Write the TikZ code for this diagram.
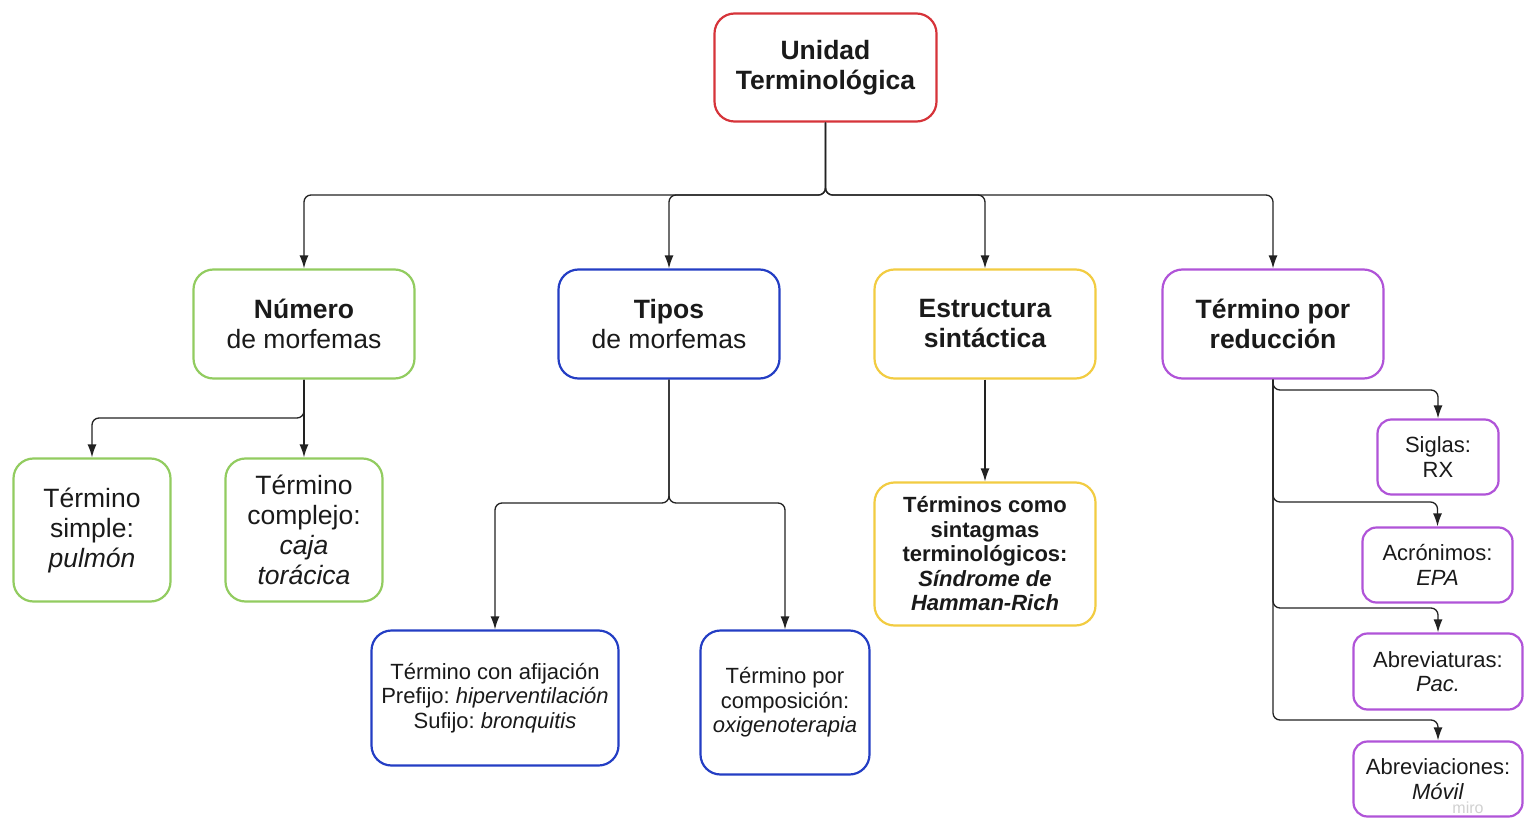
\documentclass[tikz,border=0pt]{standalone}
\usepackage{fontspec}
\setmainfont{Liberation Sans}
\usetikzlibrary{arrows.meta}
\frenchspacing
\definecolor{rojo}{RGB}{214,52,58}
\definecolor{verde}{RGB}{146,204,96}
\definecolor{azul}{RGB}{36,62,196}
\definecolor{amarillo}{RGB}{242,204,66}
\definecolor{morado}{RGB}{176,84,216}
\definecolor{texto}{RGB}{26,26,26}
\definecolor{linea}{RGB}{34,34,34}
\begin{document}
\begin{tikzpicture}[x=1pt,y=-1pt,
    caja/.style={draw,line width=2.2pt,rounded corners=20pt,align=center,inner sep=0pt,text=texto},
    grande/.style={font=\fontsize{26.5}{30}\selectfont},
    chica/.style={font=\fontsize{22}{24.5}\selectfont},
    flecha/.style={draw=linea,line width=1.3pt,rounded corners=7pt,-{Latex[length=13pt,width=9pt]}}]
  \useasboundingbox[fill=white] (0,0) rectangle (1528,818);
  \node[caja,draw=rojo,minimum width=222pt,minimum height=108pt,font=\fontsize{26.5}{30}\selectfont\bfseries] (unidad) at (825.5,67.5) {Unidad\\Terminológica};
  \node[caja,grande,draw=verde,minimum width=221pt,minimum height=109pt] (numero) at (304,324) {\textbf{Número}\\de morfemas};
  \node[caja,grande,draw=azul,minimum width=221pt,minimum height=109pt] (tipos) at (669,324) {\textbf{Tipos}\\de morfemas};
  \node[caja,draw=amarillo,minimum width=221pt,minimum height=109pt,font=\fontsize{26.5}{30}\selectfont\bfseries] (estructura) at (985,324) {Estructura\\sintáctica};
  \node[caja,draw=morado,minimum width=221pt,minimum height=109pt,font=\fontsize{26.5}{30}\selectfont\bfseries] (reduccion) at (1273,324) {Término por\\reducción};
  \node[caja,grande,draw=verde,minimum width=157pt,minimum height=143pt] (simple) at (92,530) {Término\\simple:\\\textit{pulmón}};
  \node[caja,grande,draw=verde,minimum width=157pt,minimum height=143pt] (complejo) at (304,530) {Término\\complejo:\\\textit{caja}\\\textit{torácica}};
  \node[caja,chica,draw=azul,minimum width=247pt,minimum height=135pt] (afijacion) at (495,698) {Término con afijación\\Prefijo: \textit{hiperventilación}\\Sufijo: \textit{bronquitis}};
  \node[caja,chica,draw=azul,minimum width=169pt,minimum height=144pt] (composicion) at (785,702.5) {Término por\\composición:\\\textit{oxigenoterapia}};
  \node[caja,draw=amarillo,minimum width=221pt,minimum height=143pt,font=\fontsize{22}{24.5}\selectfont\bfseries] (sintagma) at (985,554) {Términos como\\sintagmas\\terminológicos:\\\textit{Síndrome de}\\\textit{Hamman-Rich}};
  \node[caja,chica,draw=morado,rounded corners=14pt,minimum width=121pt,minimum height=75pt] (siglas) at (1438,457) {Siglas:\\RX};
  \node[caja,chica,draw=morado,rounded corners=14pt,minimum width=150pt,minimum height=75pt] (acronimos) at (1437.5,565) {Acrónimos:\\\textit{EPA}};
  \node[caja,chica,draw=morado,rounded corners=14pt,minimum width=169pt,minimum height=76pt] (abreviaturas) at (1438,671.5) {Abreviaturas:\\\textit{Pac.}};
  \node[caja,chica,draw=morado,rounded corners=14pt,minimum width=169pt,minimum height=75pt] (abreviaciones) at (1438,779) {Abreviaciones:\\\textit{Móvil}};
  \node[text=black!18,font=\fontsize{16}{16}\selectfont,inner sep=1pt] (miro) at (1468,808) {miro};
  \coordinate (ejeU) at (unidad.south |- 0,195);
  \coordinate (ejeN) at (numero.south |- 0,418);
  \coordinate (ejeT) at (tipos.south |- 0,503);
  \foreach \n in {numero,tipos,estructura,reduccion}
    \draw[flecha] (unidad.south) -- (ejeU) -| (\n.north);
  \draw[flecha] (numero.south) -- (ejeN) -| (simple.north);
  \draw[flecha] (numero.south) -- (complejo.north);
  \foreach \n in {afijacion,composicion}
    \draw[flecha] (tipos.south) -- (ejeT) -| (\n.north);
  \draw[flecha] (estructura.south) -- (sintagma.north);
  \foreach \n/\y in {siglas/390,acronimos/502,abreviaturas/608,abreviaciones/720}
    \draw[flecha] (reduccion.south) -- (reduccion.south |- 0,\y) -| (\n.north);
\end{tikzpicture}
\end{document}
